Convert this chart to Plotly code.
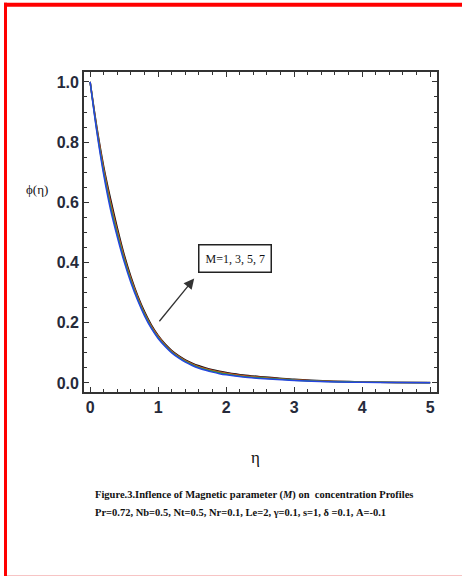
import plotly.graph_objects as go

# ---- data ----
eta = [0, 0.1, 0.2, 0.3, 0.4, 0.5, 0.6, 0.7, 0.8, 0.9, 1.0, 1.1, 1.2, 1.3, 1.4, 1.5, 1.6, 1.7, 1.8, 1.9,
       2.0, 2.25, 2.5, 2.75, 3.0, 3.5, 4.0, 4.5, 5.0]
phi_M1 = [1.0, 0.832, 0.691, 0.576, 0.485, 0.403, 0.333, 0.274, 0.223, 0.181, 0.148, 0.122, 0.100, 0.083,
          0.069, 0.058, 0.049, 0.042, 0.036, 0.031, 0.027, 0.0195, 0.015, 0.0115, 0.008, 0.0038, 0.0025,
          0.0012, 0.0008]
phi_M3 = [1.0, 0.837, 0.700, 0.588, 0.495, 0.411, 0.340, 0.279, 0.228, 0.185, 0.151, 0.1247, 0.1027,
          0.0857, 0.0717, 0.0607, 0.0517, 0.0447, 0.0387, 0.0337, 0.0297, 0.0218, 0.017, 0.0132, 0.0093,
          0.0046, 0.0028, 0.0014, 0.0009]
phi_M5 = [1.0, 0.843, 0.710, 0.600, 0.505, 0.419, 0.346, 0.285, 0.232, 0.189, 0.155, 0.1273, 0.1053,
          0.0883, 0.0743, 0.0633, 0.0543, 0.0473, 0.0413, 0.0363, 0.0323, 0.0242, 0.019, 0.0148, 0.0107,
          0.0054, 0.0032, 0.0016, 0.0011]
phi_M7 = [1.0, 0.848, 0.719, 0.612, 0.515, 0.427, 0.353, 0.290, 0.237, 0.193, 0.158, 0.130, 0.108, 0.091,
          0.077, 0.066, 0.057, 0.050, 0.044, 0.039, 0.035, 0.0265, 0.021, 0.0165, 0.012, 0.0062, 0.0035,
          0.0018, 0.0012]
series_names = ["M=7", "M=5", "M=3", "M=1"]
series_colors = ["#111111", "#e04a2a", "#2f9a3a", "#2545e0"]
series_values = [phi_M7, phi_M5, phi_M3, phi_M1]
x_ticks = [0, 1, 2, 3, 4, 5]
y_ticks = [0.0, 0.2, 0.4, 0.6, 0.8, 1.0]
y_ticklabels = ["0.0", "0.2", "0.4", "0.6", "0.8", "1.0"]
label_text = "M=1, 3, 5, 7"
caption1 = "Figure.3.Inflence of Magnetic parameter (<i>M</i>) on  concentration Profiles"
caption2 = "Pr=0.72, Nb=0.5, Nt=0.5, Nr=0.1, Le=2, \u03b3=0.1, s=1, \u03b4 =0.1, A=-0.1"

W, H = 462, 576
L, R, T, B = 84, 437, 72, 392


def px(x):
    return (x - L) / (R - L)


def py(y):
    return 1 - (y - T) / (B - T)


fig = go.Figure()
for name, col, ys in zip(series_names, series_colors, series_values):
    fig.add_trace(go.Scatter(x=eta, y=ys, mode="lines", name=name,
                             line=dict(color=col, width=1.5, shape="spline", smoothing=0.8)))

tickfont = dict(family="Liberation Sans Narrow, Arial Narrow, Liberation Sans", size=16,
                color="#262a3a", weight="bold")
axis_common = dict(showgrid=False, zeroline=False, showline=True, linecolor="#333333", linewidth=1.8,
                   mirror="allticks", ticks="inside", ticklen=5, tickwidth=1.3, tickcolor="#333333",
                   tickfont=tickfont)
fig.update_xaxes(range=[-0.09, 5.1], tickvals=x_ticks, ticktext=[str(v) for v in x_ticks],
                 minor=dict(dtick=0.2, tick0=0, ticks="inside", ticklen=3, tickwidth=1, tickcolor="#333333"),
                 **axis_common)
fig.update_yaxes(range=[-0.03, 1.033], tickvals=y_ticks, ticktext=y_ticklabels,
                 minor=dict(dtick=0.05, tick0=0, ticks="inside", ticklen=3, tickwidth=1, tickcolor="#333333"),
                 **axis_common)

serif = "Liberation Serif, Times New Roman, serif"
anns = [
    dict(x=px(37), y=py(189), xref="paper", yref="paper", xanchor="center", yanchor="middle",
         text="\u03d5(\u03b7)", showarrow=False, font=dict(family=serif, size=13, color="#111")),
    dict(x=px(255), y=py(457), xref="paper", yref="paper", xanchor="center", yanchor="middle",
         text="\u03b7", showarrow=False, font=dict(family=serif, size=17, color="#111")),
    dict(x=px(93), y=py(495), xref="paper", yref="paper", xanchor="left", yanchor="middle",
         text=caption1, showarrow=False, font=dict(family=serif, size=10.5, color="#111", weight="bold")),
    dict(x=px(93), y=py(512), xref="paper", yref="paper", xanchor="left", yanchor="middle",
         text=caption2, showarrow=False, font=dict(family=serif, size=10.5, color="#111", weight="bold")),
    # arrow
    dict(x=1.53, y=0.347, ax=1.0, ay=0.2, xref="x", yref="y", axref="x", ayref="y", text="",
         showarrow=True, arrowhead=2, arrowsize=1.6, arrowwidth=1.3, arrowcolor="#333"),
    # label box
    dict(x=2.125, y=0.415, xref="x", yref="y", xanchor="center", yanchor="middle", text=label_text,
         showarrow=False, font=dict(family=serif, size=12, color="#111"), bordercolor="#222",
         borderwidth=1.5, borderpad=6, bgcolor="white"),
]

shapes = [
    dict(type="rect", xref="paper", yref="paper", x0=px(4), x1=px(462), y0=py(6.7), y1=py(2.7),
         fillcolor="#ff0000", line=dict(width=0), layer="above"),
    dict(type="rect", xref="paper", yref="paper", x0=px(4), x1=px(7), y0=py(576), y1=py(2.7),
         fillcolor="#ff0000", line=dict(width=0), layer="above"),
    dict(type="line", xref="paper", yref="paper", x0=px(7), x1=px(462), y0=py(575.5), y1=py(575.5),
         line=dict(color="#f7c4c4", width=1)),
]

fig.update_layout(width=W, height=H, margin=dict(l=L, r=W - R, t=T, b=H - B),
                  paper_bgcolor="white", plot_bgcolor="white", showlegend=False,
                  annotations=anns, shapes=shapes)

fig.write_html("out.html")
